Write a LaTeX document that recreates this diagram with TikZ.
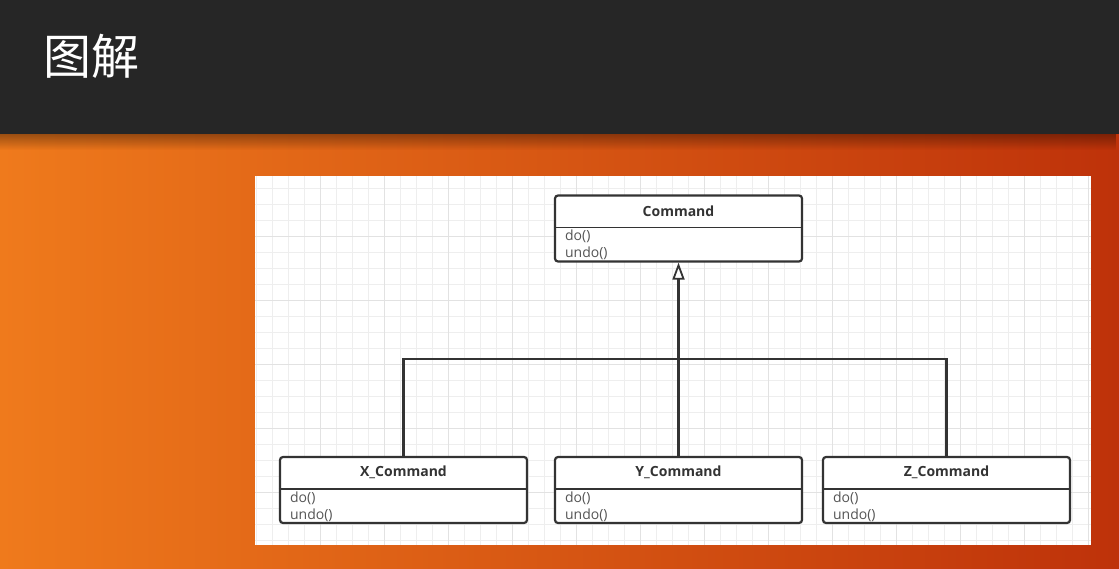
\documentclass[tikz,border=0pt]{standalone}
\usepackage{fontspec}
\setmainfont{Open Sans}
\newfontfamily\cjk{Noto Sans CJK SC}
\usetikzlibrary{arrows.meta,fadings}
\definecolor{hdr}{HTML}{262626}
\definecolor{orL}{HTML}{EF7A1C}
\definecolor{orR}{HTML}{BE320A}
\definecolor{gridminor}{HTML}{EEEEEE}
\definecolor{gridmajor}{HTML}{E2E2E2}
\definecolor{umlline}{HTML}{333333}
\definecolor{umltext}{HTML}{555555}
\tikzset{
  classbox/.style={draw=umlline, line width=2.2pt, rounded corners=3pt, fill=white,
    minimum width=247pt, minimum height=66pt, inner sep=0pt},
  classname/.style={font=\fontsize{14}{16}\selectfont\bfseries, text=umlline},
  member/.style={font=\fontsize{14}{15}\selectfont, text=umltext, anchor=west, inner sep=0pt},
  divider/.style={draw=umlline, line width=1.8pt},
  link/.style={draw=umlline, line width=2.2pt},
}
\begin{document}
\begin{tikzpicture}[x=1pt,y=-1pt]
\useasboundingbox (0,0) rectangle (1119,568);
% background
\shade[left color=orL, right color=orR] (0,134) rectangle (1119,568);
\fill[black, opacity=0.35, path fading=south] (0,134) rectangle (1119,150);
\fill[hdr] (0,0) rectangle (1119,134);
\node[text=white, font=\cjk\fontsize{48}{50}\selectfont, anchor=west, inner sep=0pt] (title) at (43,56) {图解};
% panel
\fill[white] (255,176) rectangle (1091,545);
\begin{scope}
\clip (255,176) rectangle (1091,545);
\foreach \x in {0,16,...,848} \draw[gridminor, line width=0.8pt] (256+\x,176) -- (256+\x,545);
\foreach \y in {0,16,...,384} \draw[gridminor, line width=0.8pt] (255,188+\y) -- (1091,188+\y);
\foreach \x in {0,64,...,848} \draw[gridmajor, line width=0.9pt] (320+\x,176) -- (320+\x,545);
\foreach \y in {0,64,...,384} \draw[gridmajor, line width=0.9pt] (255,236+\y) -- (1091,236+\y);
\end{scope}
% classes
\node[classbox] (cmd) at (678.5,228.5) {};
\node[classbox] (xc) at (403.5,490) {};
\node[classbox] (yc) at (678.5,490) {};
\node[classbox] (zc) at (946.5,490) {};
\foreach \n/\t in {cmd/Command, xc/X\_Command, yc/Y\_Command, zc/Z\_Command}{
  \draw[divider] ([yshift=-33pt]\n.north west) -- ([yshift=-33pt]\n.north east);
  \node[classname] (\n-name) at ([yshift=-16.5pt]\n.north) {\t};
  \node[member] (\n-do) at ([xshift=11pt,yshift=-42pt]\n.north west) {do()};
  \node[member] (\n-undo) at ([xshift=11pt,yshift=-59pt]\n.north west) {undo()};
}
% connectors
\coordinate (bx) at (xc.north |- 0,359);
\coordinate (bz) at (zc.north |- 0,359);
\draw[link] (xc.north) -- (bx) -- (bz) -- (zc.north);
\draw[link, -{Triangle[open, length=17pt, width=12pt, fill=white, line width=1.8pt]}] (yc.north) -- (cmd.south);
\end{tikzpicture}
\end{document}
